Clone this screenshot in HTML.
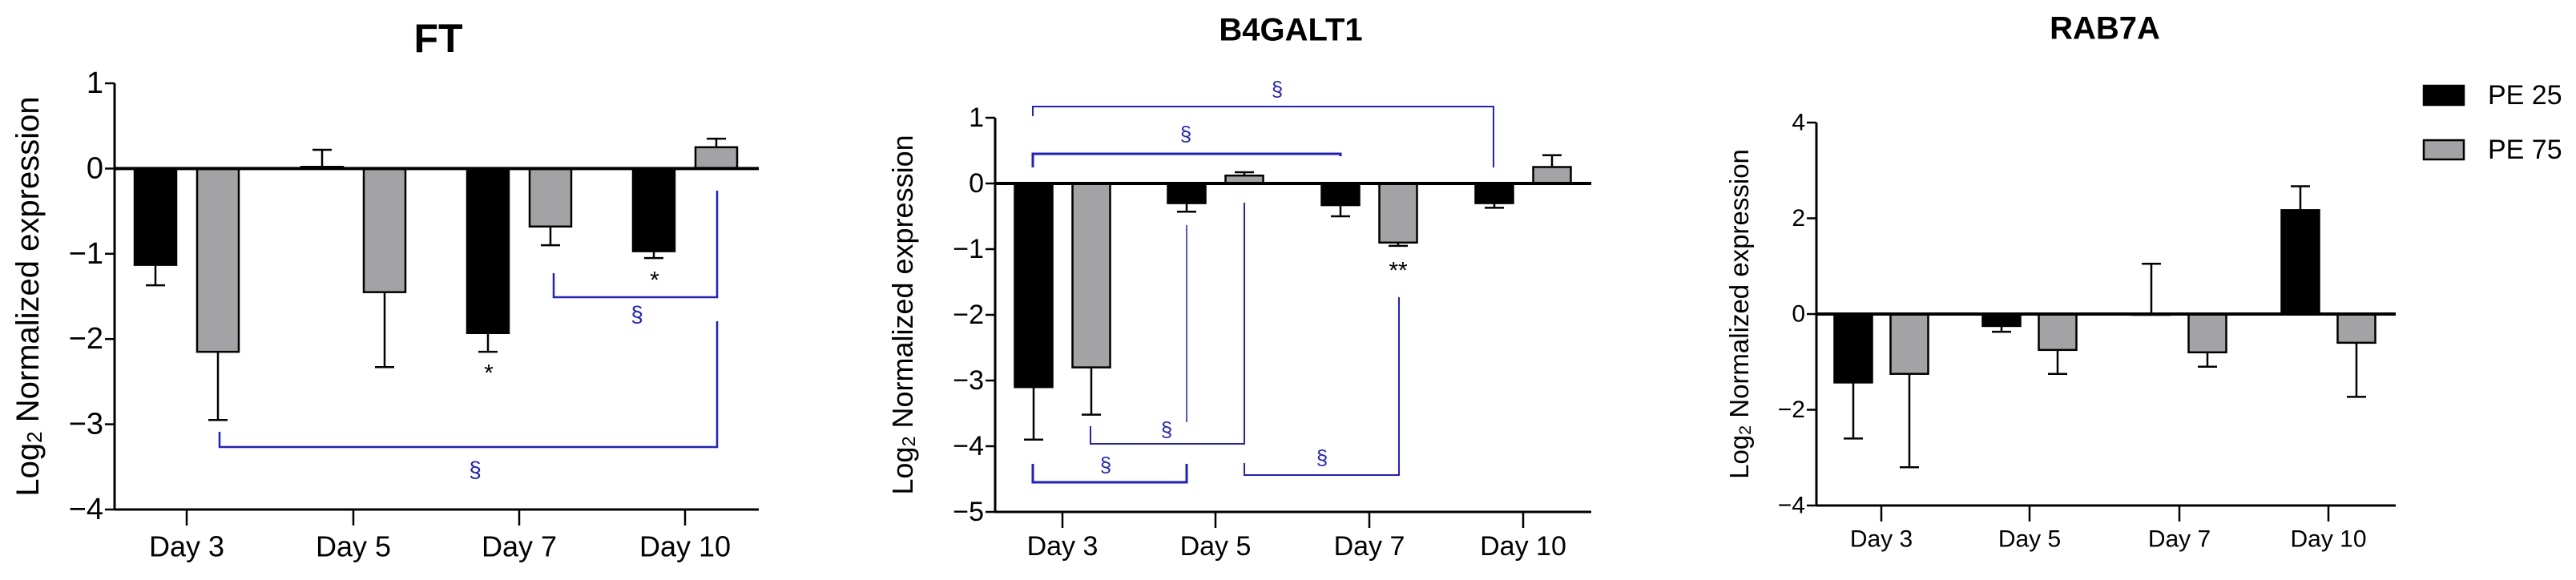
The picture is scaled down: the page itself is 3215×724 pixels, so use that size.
<!DOCTYPE html>
<html><head><meta charset="utf-8"><style>
html,body{margin:0;padding:0;background:#fff;}
svg{display:block;}
text{font-family:"Liberation Sans Narrow","Liberation Sans",sans-serif;}
</style></head><body>
<svg id="chart" width="3215" height="724" viewBox="0 0 3215 724" xmlns="http://www.w3.org/2000/svg"></svg>
<script>
const categories = ["Day 3","Day 5","Day 7","Day 10"];
const ftPE25 = [-1.13, 0.02, -1.93, -0.97];
const ftPE25Err = [-1.37, 0.22, -2.15, -1.05];
const ftPE75 = [-2.15, -1.45, -0.68, 0.25];
const ftPE75Err = [-2.95, -2.33, -0.9, 0.35];
const b4PE25 = [-3.1, -0.3, -0.33, -0.3];
const b4PE25Err = [-3.9, -0.43, -0.5, -0.37];
const b4PE75 = [-2.8, 0.12, -0.9, 0.25];
const b4PE75Err = [-3.52, 0.17, -0.95, 0.43];
const rabPE25 = [-1.43, -0.25, 0, 2.17];
const rabPE25Err = [-2.6, -0.37, 1.05, 2.67];
const rabPE75 = [-1.25, -0.75, -0.8, -0.6];
const rabPE75Err = [-3.2, -1.25, -1.1, -1.73];
const ftTicks = [1, 0, -1, -2, -3, -4];
const b4Ticks = [1, 0, -1, -2, -3, -4, -5];
const rabTicks = [4, 2, 0, -2, -4];
const seriesNames = ["PE 25", "PE 75"];

const NS = "http://www.w3.org/2000/svg";
const svg = document.getElementById("chart");
function mk(tag, attrs, parent, txt){
  const e = document.createElementNS(NS, tag);
  for (const k in attrs) e.setAttribute(k, attrs[k]);
  if (txt !== undefined) e.textContent = txt;
  (parent || svg).appendChild(e);
  return e;
}
function fmt(v){ return v < 0 ? "\u2212" + Math.abs(v) : String(v); }

function panel(cfg){
  const g = mk("g", {});
  
  
  const y = v => cfg.y0 + (cfg.vmax - v) * (cfg.y1 - cfg.y0) / (cfg.vmax - cfg.vmin);
  const x = i => cfg.cx[i];
  const t = mk("text", {x: cfg.titleX, y: cfg.titleY, "text-anchor": "middle", "font-size": cfg.titleSize, "font-weight": "bold", "dominant-baseline": "middle", style: "font-family:'Liberation Sans',sans-serif"}, g, cfg.title);
  
  
  // y axis
  const ya = mk("line", {x1: cfg.ax, x2: cfg.ax, y1: y(cfg.vmax), y2: y(cfg.vmin), stroke: "#000", "stroke-width": 3}, g);
  
  
  cfg.ticks.forEach(v => {
    mk("line", {x1: cfg.ax - 12, x2: cfg.ax, y1: y(v), y2: y(v), stroke: "#000", "stroke-width": 2.5}, g);
    const tl = mk("text", {x: cfg.ax - 14, y: y(v), "text-anchor": "end", "dominant-baseline": "central", "font-size": cfg.tickSize}, g, fmt(v));
    
    
  });
  const yt = mk("text", {x: 0, y: 0, transform: `translate(${cfg.ytX},${(y(cfg.vmax)+y(cfg.vmin))/2}) rotate(-90)`, "text-anchor": "middle", "dominant-baseline": "central", "font-size": cfg.ytSize, style: "font-family:'Liberation Sans',sans-serif"}, g);
  
  
  mk("tspan", {}, yt, "Log");
  mk("tspan", {"font-size": cfg.ytSize * 0.65, dy: 8}, yt, "2");
  mk("tspan", {dy: -8}, yt, " Normalized expression");
  // bottom axis
  const xa = mk("line", {x1: cfg.ax, x2: cfg.axR, y1: y(cfg.vmin), y2: y(cfg.vmin), stroke: "#000", "stroke-width": 3}, g);
  
  
  categories.forEach((c, i) => {
    mk("line", {x1: x(i), x2: x(i), y1: y(cfg.vmin), y2: y(cfg.vmin) + 20, stroke: "#000", "stroke-width": 2.5}, g);
    const cl = mk("text", {x: x(i), y: cfg.dayY, "text-anchor": "middle", "dominant-baseline": "central", "font-size": cfg.daySize}, g, c);
    
    
  });
  // bars
  const sets = [[cfg.s1, cfg.e1, "#000", -cfg.off], [cfg.s2, cfg.e2, "#a3a3a6", cfg.off]];
  sets.forEach((s, si) => {
    s[0].forEach((v, i) => {
      const cx = x(i) + s[3];
      const top = Math.min(y(v), y(0)), h = Math.max(Math.abs(y(v) - y(0)), 1);
      const e = s[1][i];
      mk("line", {x1: cx, x2: cx, y1: y(v), y2: y(e), stroke: "#000", "stroke-width": 2.5}, g);
      mk("line", {x1: cx - 12, x2: cx + 12, y1: y(e), y2: y(e), stroke: "#000", "stroke-width": 2.5}, g);
      const b = mk("rect", {x: cx - cfg.bw/2, y: top, width: cfg.bw, height: h, fill: s[2], stroke: "#000", "stroke-width": 2.5}, g);
      
      
    });
  });
  const z = mk("line", {x1: cfg.ax, x2: cfg.axR, y1: y(0), y2: y(0), stroke: "#000", "stroke-width": 4}, g);
  
  
  return g;
}

const ft = panel({name:"ft", title:"FT", titleX:547, titleY:52, titleSize:50, ax:143, axR:947, y0:104, y1:636, vmax:1, vmin:-4,
  ticks:ftTicks, tickSize:38, ytX:35, ytSize:40, cx:[233,441,648,855], dayY:682, daySize:36, off:39, bw:52,
  s1:ftPE25, e1:ftPE25Err, s2:ftPE75, e2:ftPE75Err});
const b4 = panel({name:"b4galt1", title:"B4GALT1", titleX:1611, titleY:40, titleSize:40, ax:1242, axR:1986, y0:147, y1:639, vmax:1, vmin:-5,
  ticks:b4Ticks, tickSize:34, ytX:1126, ytSize:36, cx:[1326,1517,1709,1901], dayY:682, daySize:34, off:36, bw:47,
  s1:b4PE25, e1:b4PE25Err, s2:b4PE75, e2:b4PE75Err});
const rab = panel({name:"rab7a", title:"RAB7A", titleX:2627, titleY:38, titleSize:40, ax:2267, axR:2990, y0:153, y1:631, vmax:4, vmin:-4,
  ticks:rabTicks, tickSize:30, ytX:2170, ytSize:33, cx:[2348,2533,2720,2906], dayY:673, daySize:30, off:35, bw:47,
  s1:rabPE25, e1:rabPE25Err, s2:rabPE75, e2:rabPE75Err});

// significance annotations
const BLUE = "#1f1fcc";
function path(d, w, name){
  const p = mk("path", {d: d, fill: "none", stroke: BLUE, "stroke-width": w});
  
  
}
function sym(x, y, s, color, size, name){
  const t = mk("text", {x: x, y: y, "text-anchor": "middle", "dominant-baseline": "central", "font-size": size, fill: color}, svg, s);
  
  
}
path("M691 341 V371 H895 V238", 2.5, "ft-significance-bracket-1");
sym(795, 392, "§", BLUE, 28, "ft-section-mark-1");
path("M274 539 V558 H895 V401", 2.5, "ft-significance-bracket-2");
sym(593, 586, "§", BLUE, 28, "ft-section-mark-2");
sym(610, 466, "*", "#000", 30, "ft-asterisk-day7");
sym(817, 350, "*", "#000", 30, "ft-asterisk-day10");

path("M1289 145 V133 H1864 V209", 2, "b4-significance-bracket-1");
sym(1594, 111, "§", BLUE, 26, "b4-section-mark-1");
path("M1289 209 V192 H1673 V195", 3, "b4-significance-bracket-2");
sym(1480, 167, "§", BLUE, 26, "b4-section-mark-2");
path("M1361 532 V554 H1553 V253", 2, "b4-significance-bracket-3");
sym(1456, 536, "§", BLUE, 26, "b4-section-mark-3");
path("M1481 281 V527", 1.5, "b4-significance-line");
path("M1289 579 V602 H1481 V579", 3, "b4-significance-bracket-4");
sym(1380, 580, "§", BLUE, 26, "b4-section-mark-4");
path("M1553 578 V593 H1746 V371", 2, "b4-significance-bracket-5");
sym(1650, 571, "§", BLUE, 26, "b4-section-mark-5");
sym(1745, 338, "**", "#000", 30, "b4-asterisks-day7");

// legend
const leg = mk("g", {});


const legFills = ["#000", "#a3a3a6"];
seriesNames.forEach((n, i) => {
  const yy = 107 + i * 68;
  const r = mk("rect", {x: 3025, y: yy, width: 50, height: 24, fill: legFills[i], stroke: "#000", "stroke-width": 2.5}, leg);
  
  
  const t = mk("text", {x: 3105, y: yy + 12, "dominant-baseline": "central", "font-size": 34}, leg, n);
  
  
});
</script>
</body></html>
